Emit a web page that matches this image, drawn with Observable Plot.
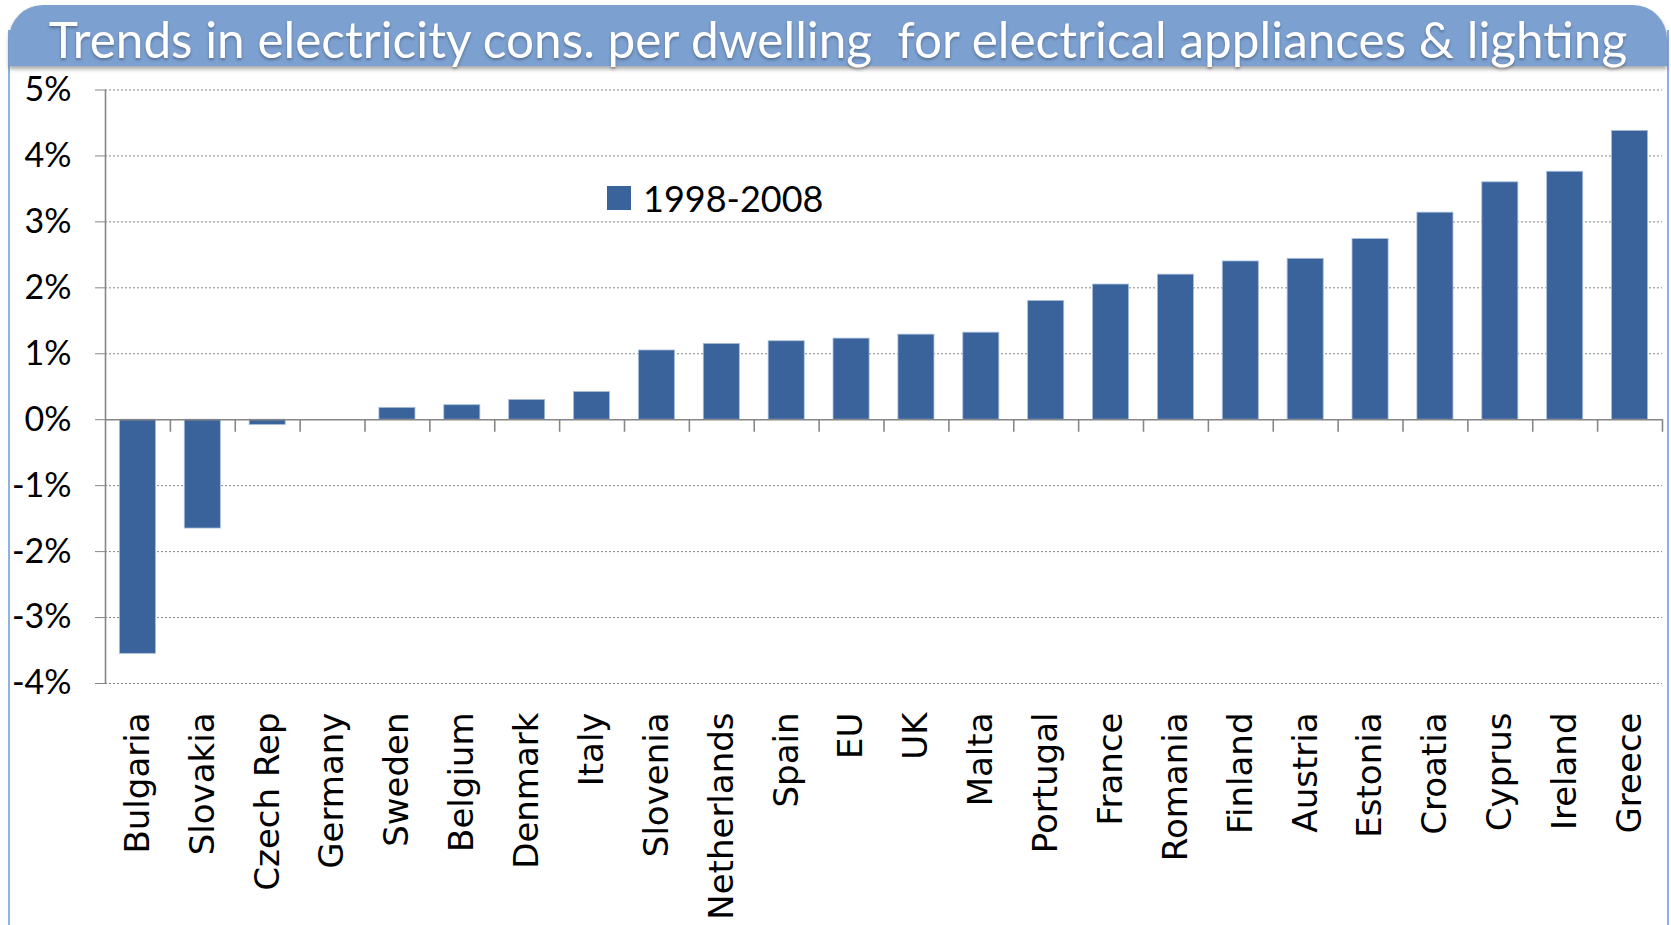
<!DOCTYPE html>
<html>
<head>
<meta charset="utf-8">
<script src="https://cdn.jsdelivr.net/npm/d3@7"></script>
<script src="https://cdn.jsdelivr.net/npm/@observablehq/plot@0.6"></script>
<style>
  body { margin: 0; background: #fff; }
  #wrap { position: relative; width: 1671px; height: 925px; overflow: hidden; background: #fff; }
  #frame { position: absolute; left: 8px; top: 30px; width: 1661px; height: 920px;
           border-left: 2px solid #8DB3E2; border-right: 2px solid #8DB3E2; box-sizing: border-box; }
  #banner { position: absolute; left: 9px; top: 5px; width: 1658px; height: 61px;
            background: #7CA0D0; border-radius: 34px 34px 0 0;
            box-shadow: 0 3px 4px rgba(0,0,0,0.35); }
  #title { position: absolute; left: 9px; top: 5px; width: 1658px; height: 70px;
           color: #fff; font-family: Lato, sans-serif; font-size: 49.5px;
           text-align: center; line-height: 68px; white-space: pre;
           text-shadow: 0 2px 3px rgba(0,0,0,0.3); }
  #chart { position: absolute; left: 0; top: 66px; }
  #legend { position: absolute; left: 607px; top: 178px; height: 40px; display: flex; align-items: center;
            font-family: Lato, sans-serif; font-size: 36px; color: #000; }
  #legend .sw { width: 24px; height: 24px; background: #3A639C; margin-right: 12px; }
</style>
</head>
<body>
<div id="wrap">
  <div id="frame"></div>
  <div id="banner"></div>
  <div id="chart"></div>
  <div id="title"></div>
  <div id="legend"><div class="sw"></div><span id="legtext"></span></div>
</div>
<script>
const titleText = "Trends in electricity cons. per dwelling  for electrical appliances & lighting";
const seriesName = "1998-2008";
const countries = ["Bulgaria","Slovakia","Czech Rep","Germany","Sweden","Belgium","Denmark","Italy",
  "Slovenia","Netherlands","Spain","EU","UK","Malta","Portugal","France","Romania","Finland",
  "Austria","Estonia","Croatia","Cyprus","Ireland","Greece"];
const values = [-3.55, -1.65, -0.08, 0, 0.18, 0.22, 0.30, 0.42,
  1.05, 1.15, 1.19, 1.23, 1.29, 1.32, 1.80, 2.05, 2.20, 2.40,
  2.44, 2.74, 3.14, 3.60, 3.76, 4.38];
const yTicks = [-4, -3, -2, -1, 0, 1, 2, 3, 4, 5];

document.getElementById("title").textContent = titleText;
document.getElementById("legtext").textContent = seriesName;

const data = countries.map((c, i) => ({country: c, value: values[i]}));

const W = 1671, H = 859, mL = 105, mR = 9, mT = 23.5, mB = 242;
const step = (W - mL - mR) / countries.length;
const axisGray = "#868686";
const tickLen = 0.19;

const chart = Plot.plot({
  width: W, height: H,
  marginLeft: mL, marginRight: mR, marginTop: mT, marginBottom: mB,
  style: {background: "transparent", overflow: "visible"},
  x: {type: "band", domain: countries, paddingInner: 0.444, paddingOuter: 0.222, round: false},
  y: {domain: [-4, 5]},
  marks: [
    Plot.gridY(yTicks.filter(d => d !== 0), {stroke: axisGray, strokeOpacity: 1, strokeDasharray: "2,2", strokeWidth: 1}),
    Plot.barY(data, {x: "country", y: "value", fill: "#3A639C", stroke: "#A9BEDD", strokeWidth: 0.8}),
    Plot.ruleY([0], {stroke: axisGray, strokeWidth: 1.6}),
    Plot.ruleX([countries[0]], {dx: -step / 2, y1: -4, y2: 5, stroke: axisGray, strokeWidth: 1.6}),
    Plot.ruleX(countries, {dx: step / 2, y1: 0, y2: -tickLen, stroke: axisGray, strokeWidth: 1.6}),
    Plot.axisY({ticks: yTicks, tickFormat: d => d + "%", tickSize: 10, tickPadding: 24,
      fontSize: 34, fontFamily: "Lato", fill: "#000", stroke: axisGray, label: null}),
    Plot.axisX({anchor: "bottom", tickSize: 0, tickPadding: 29, tickRotate: -90,
      fontSize: 34, fontFamily: "DejaVu Sans", fill: "#000", label: null})
  ]
});
document.getElementById("chart").appendChild(chart);
</script>
</body>
</html>
